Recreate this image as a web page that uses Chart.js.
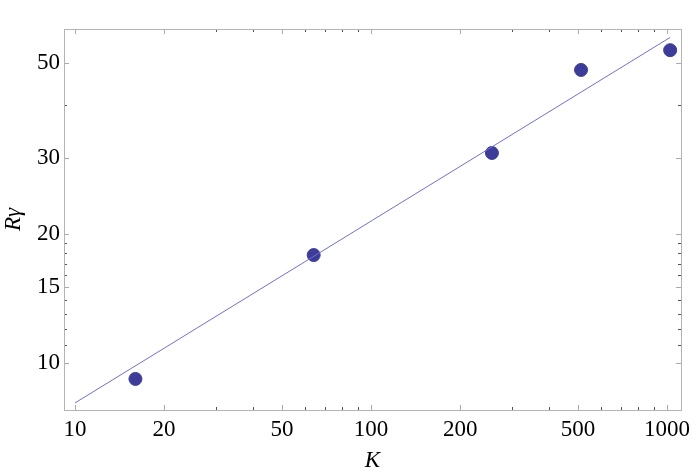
<!DOCTYPE html>
<html>
<head>
<meta charset="utf-8">
<script src="https://cdn.jsdelivr.net/npm/chart.js@4.4.0/dist/chart.umd.min.js"></script>
<style>
  html, body { margin: 0; padding: 0; background: #fff; }
</style>
</head>
<body>
<canvas id="chart" width="693" height="475"></canvas>
<script>
// measured points (K, R*gamma)
const kValues = [16, 64, 256, 512, 1024];
const rValues = [9.18, 17.85, 30.87, 48.2, 53.6];

// fitted power-law line, end points
const fitK = [10, 1024];
const fitR = [8.07, 57.4];

// tick marks
const xMajor = [10, 20, 50, 100, 200, 500, 1000];
const xMinor = [30, 40, 60, 70, 80, 90, 300, 400, 600, 700, 800, 900];
const yMajor = [10, 15, 20, 30, 50];
const yMinor = [11, 12, 13, 14, 16, 17, 18, 19, 40, 60];

const serif = '"Liberation Serif", "DejaVu Serif", serif';

// frame + inward ticks on all four sides, Mathematica style
const frameTicks = {
  id: 'frameTicks',
  beforeDatasetsDraw(chart) {
    const { ctx, chartArea: a, scales } = chart;
    const x = scales.x, y = scales.y;
    ctx.save();
    ctx.lineWidth = 1;

    function tick(px, py, dx, dy, color) {
      ctx.strokeStyle = color;
      ctx.beginPath();
      ctx.moveTo(px, py);
      ctx.lineTo(px + dx, py + dy);
      ctx.stroke();
    }
    xMajor.forEach(v => {
      const px = Math.round(x.getPixelForValue(v)) + 0.5;
      tick(px, a.bottom, 0, -5, '#aaaaaa');
      tick(px, a.top, 0, 5, '#aaaaaa');
    });
    xMinor.forEach(v => {
      const px = Math.round(x.getPixelForValue(v)) + 0.5;
      tick(px, a.bottom, 0, -3, '#555555');
      tick(px, a.top, 0, 3, '#555555');
    });
    yMajor.forEach(v => {
      const py = Math.round(y.getPixelForValue(v)) + 0.5;
      tick(a.left, py, 5, 0, '#aaaaaa');
      tick(a.right, py, -5, 0, '#aaaaaa');
    });
    yMinor.forEach(v => {
      const py = Math.round(y.getPixelForValue(v)) + 0.5;
      tick(a.left, py, 3, 0, '#555555');
      tick(a.right, py, -3, 0, '#555555');
    });

    ctx.strokeStyle = '#b3b3b3';
    ctx.strokeRect(Math.round(a.left) + 0.5, Math.round(a.top) + 0.5,
      Math.round(a.right - a.left), Math.round(a.bottom - a.top));
    ctx.restore();
  }
};

new Chart(document.getElementById('chart'), {
  type: 'scatter',
  data: {
    datasets: [{
      label: 'fit',
      type: 'line',
      data: fitK.map((k, i) => ({ x: k, y: fitR[i] })),
      borderColor: '#7070cc',
      borderWidth: 1,
      pointRadius: 0,
      fill: false,
      tension: 0
    }, {
      label: 'data',
      data: kValues.map((k, i) => ({ x: k, y: rValues[i] })),
      backgroundColor: '#3d3d99',
      borderColor: '#3d3d99',
      pointRadius: 6.5,
      pointHoverRadius: 6.5
    }]
  },
  options: {
    responsive: false,
    animation: false,
    layout: { padding: { top: 29, right: 12, left: 0, bottom: 0 } },
    plugins: { legend: { display: false }, tooltip: { enabled: false } },
    scales: {
      x: {
        type: 'logarithmic',
        min: 9.18,
        max: 1114,
        border: { display: false },
        grid: { display: false, drawTicks: false },
        afterBuildTicks: s => { s.ticks = xMajor.map(v => ({ value: v })); },
        afterFit: s => { s.height = 65; s.paddingLeft = 0; s.paddingRight = 0; },
        ticks: {
          autoSkip: false,
          maxRotation: 0,
          padding: 6,
          color: '#000',
          font: { family: serif, size: 23 },
          callback: v => String(v)
        },
        title: {
          display: true,
          text: 'K',
          color: '#000',
          padding: 0,
          font: { family: serif, size: 23, style: 'italic' }
        }
      },
      y: {
        type: 'logarithmic',
        min: 7.77,
        max: 60.05,
        border: { display: false },
        grid: { display: false, drawTicks: false },
        afterBuildTicks: s => { s.ticks = yMajor.map(v => ({ value: v })); },
        afterFit: s => { s.width = 64; s.paddingTop = 0; s.paddingBottom = 0; },
        ticks: {
          autoSkip: false,
          padding: 4,
          color: '#000',
          font: { family: serif, size: 23 },
          callback: v => String(v)
        },
        title: {
          display: true,
          text: 'Rγ',
          color: '#000',
          padding: 0,
          font: { family: serif, size: 23, style: 'italic' }
        }
      }
    }
  },
  plugins: [frameTicks]
});
</script>
</body>
</html>
